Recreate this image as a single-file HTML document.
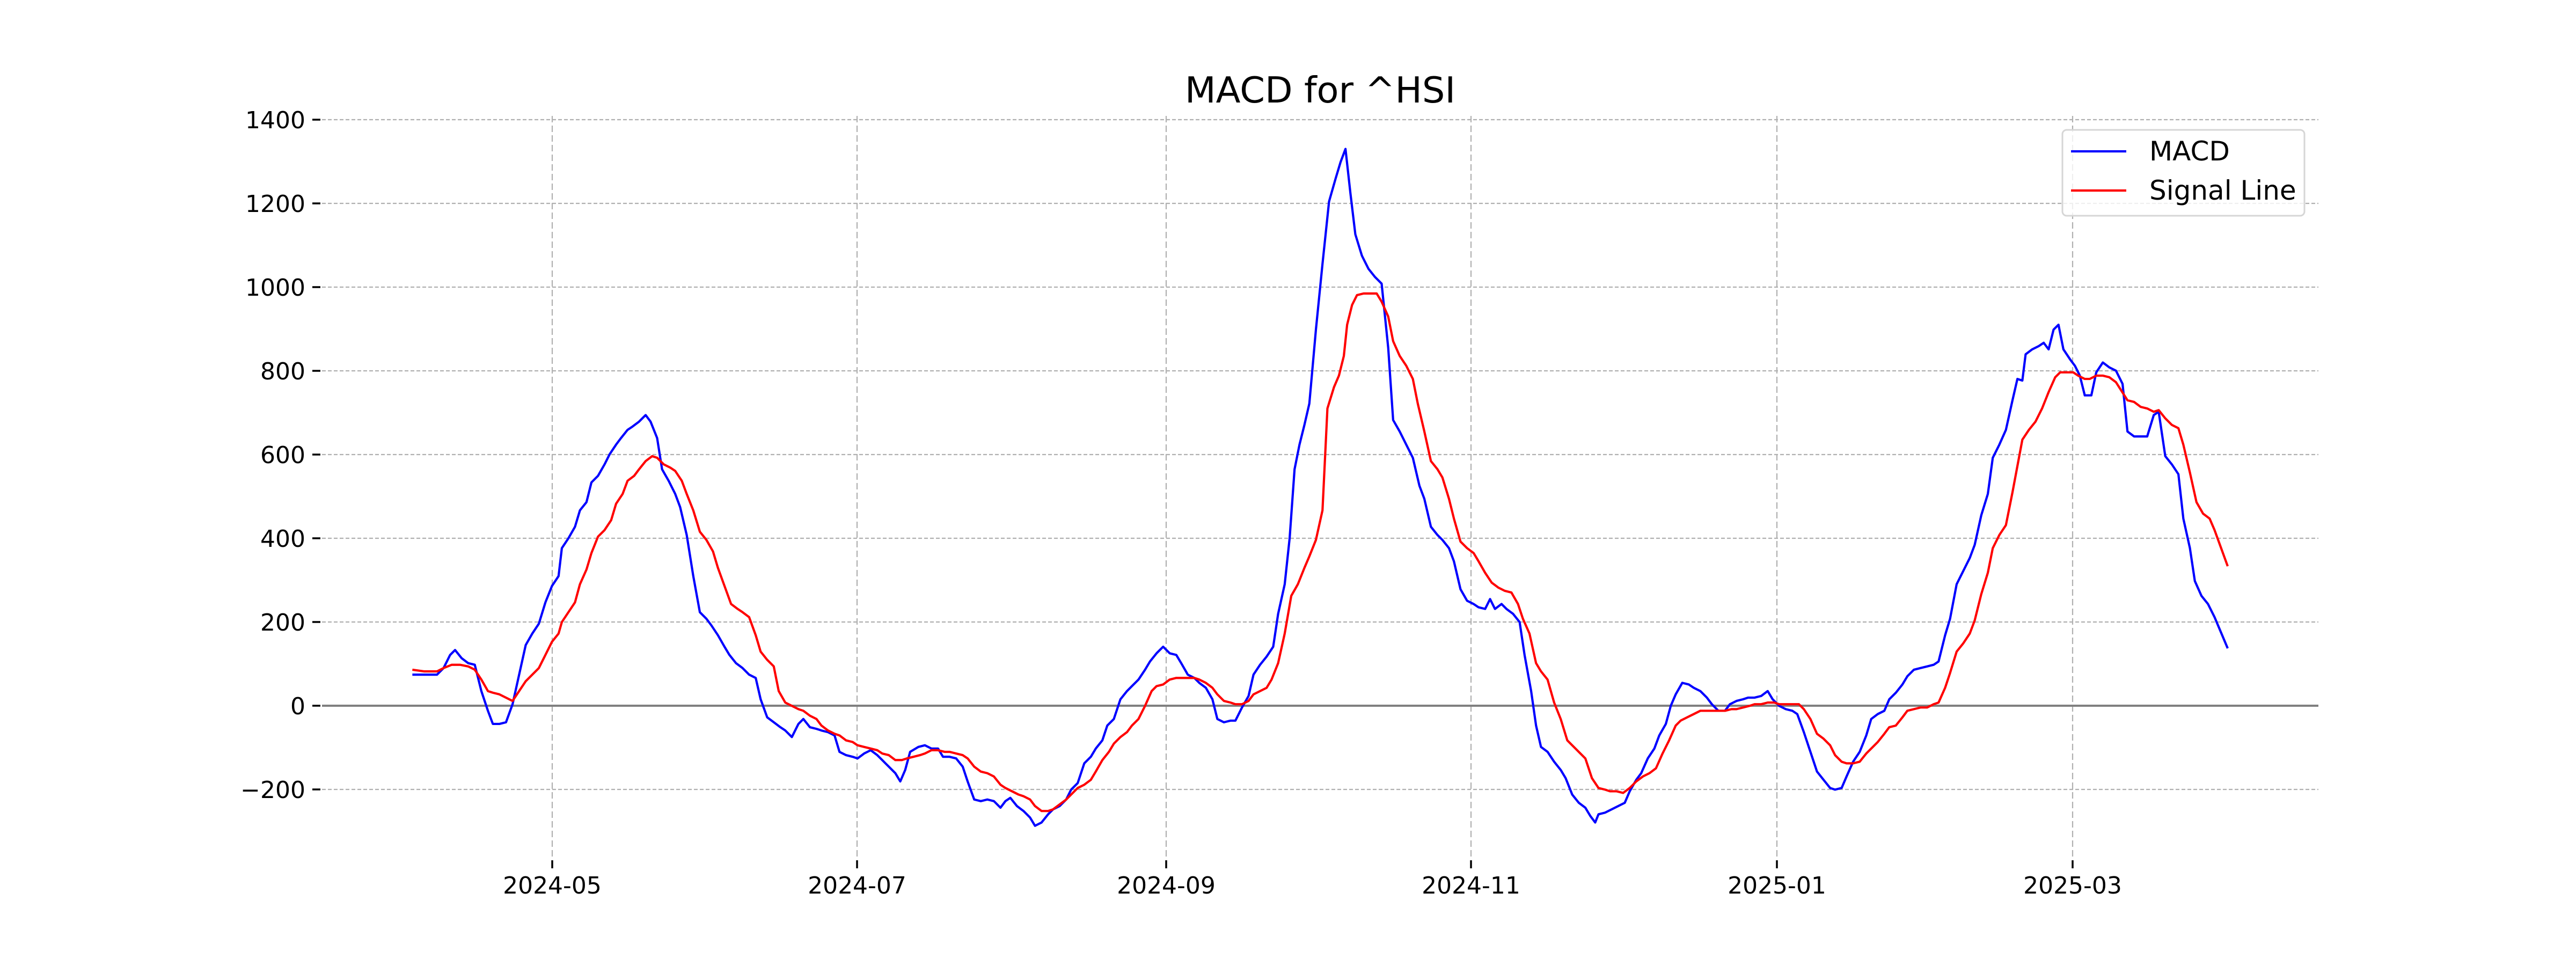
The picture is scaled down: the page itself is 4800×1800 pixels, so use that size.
<!DOCTYPE html>
<html><head><meta charset="utf-8"><style>
html,body{margin:0;padding:0;background:#fff;}
svg{display:block;}
text{font-family:"DejaVu Sans","Liberation Sans",sans-serif;fill:#000;}
</style></head><body>
<svg width="4800" height="1800" viewBox="0 0 4800 1800" xmlns="http://www.w3.org/2000/svg">
<rect width="4800" height="1800" fill="#fff"/>
<text x="2460" y="191" font-size="67" text-anchor="middle">MACD for ^HSI</text>
<g stroke="#b0b0b0" stroke-width="2.2" stroke-dasharray="7,4" fill="none">
<line x1="600" x2="4320" y1="223" y2="223"/>
<line x1="600" x2="4320" y1="379" y2="379"/>
<line x1="600" x2="4320" y1="535" y2="535"/>
<line x1="600" x2="4320" y1="691" y2="691"/>
<line x1="600" x2="4320" y1="847" y2="847"/>
<line x1="600" x2="4320" y1="1003" y2="1003"/>
<line x1="600" x2="4320" y1="1159" y2="1159"/>
<line x1="600" x2="4320" y1="1471" y2="1471"/>
</g>
<g stroke="#b0b0b0" stroke-width="2.2" stroke-dasharray="12,6" fill="none">
<line x1="1029" x2="1029" y1="216" y2="1602"/>
<line x1="1597" x2="1597" y1="216" y2="1602"/>
<line x1="2173" x2="2173" y1="216" y2="1602"/>
<line x1="2741" x2="2741" y1="216" y2="1602"/>
<line x1="3311" x2="3311" y1="216" y2="1602"/>
<line x1="3862" x2="3862" y1="216" y2="1602"/>
</g>
<line x1="600" x2="4320" y1="1315" y2="1315" stroke="#808080" stroke-width="4"/>
<g stroke="#000" stroke-width="3.5">
<line x1="582" x2="597" y1="223" y2="223"/><line x1="582" x2="597" y1="379" y2="379"/>
<line x1="582" x2="597" y1="535" y2="535"/><line x1="582" x2="597" y1="691" y2="691"/>
<line x1="582" x2="597" y1="847" y2="847"/><line x1="582" x2="597" y1="1003" y2="1003"/>
<line x1="582" x2="597" y1="1159" y2="1159"/><line x1="582" x2="597" y1="1315" y2="1315"/>
<line x1="582" x2="597" y1="1471" y2="1471"/>
<line x1="1029" x2="1029" y1="1603" y2="1618"/><line x1="1597" x2="1597" y1="1603" y2="1618"/>
<line x1="2173" x2="2173" y1="1603" y2="1618"/><line x1="2741" x2="2741" y1="1603" y2="1618"/>
<line x1="3311" x2="3311" y1="1603" y2="1618"/><line x1="3862" x2="3862" y1="1603" y2="1618"/>
</g>
<g font-size="44" text-anchor="end">
<text x="569" y="239">1400</text><text x="569" y="395">1200</text><text x="569" y="551">1000</text>
<text x="569" y="707">800</text><text x="569" y="863">600</text><text x="569" y="1019">400</text>
<text x="569" y="1175">200</text><text x="569" y="1331">0</text><text x="569" y="1487">−200</text>
</g>
<g font-size="44" text-anchor="middle">
<text x="1029" y="1665">2024-05</text><text x="1597" y="1665">2024-07</text><text x="2173" y="1665">2024-09</text>
<text x="2741" y="1665">2024-11</text><text x="3311" y="1665">2025-01</text><text x="3862" y="1665">2025-03</text>
</g>
<g transform="translate(0,2) scale(3.0612)" fill="none" stroke-linejoin="round">
<polyline vector-effect="non-scaling-stroke" stroke="#0000ff" stroke-width="4.2" points="251,410 258,410 266,410 270,406 274,398 277,395 281,400 285,403 289,404 293,420 297,432 300,440 304,440 308,439 312,428 316,410 320,392 324,385 328,379 332,366 336,356 340,350 342,333 346,327 350,320 353,310 357,305 360,293 364,289 368,282 371,276 375,270 378,266 382,261 385,259 389,256 393,252 396,256 400,266 403,285 407,292 411,300 414,308 418,325 422,350 426,372 430,376 433,380 437,386 441,393 444,398 448,403 452,406 456,410 460,412 463,425 467,436 471,439 475,442 478,444 482,448 486,440 489,437 493,442 497,443 500,444 504,445 508,447 511,457 515,459 519,460 522,461 526,458 530,456 534,459 537,462 541,466 545,470 548,475 551,468 554,457 559,454 563,453 567,455 571,455 574,460 578,460 582,461 586,466 589,475 593,486 597,487 601,486 605,487 609,491 612,487 615,485 619,490 623,493 627,497 630,502 634,500 638,495 641,492 645,490 649,486 652,480 656,476 660,464 664,460 667,455 671,450 674,441 678,437 682,425 686,420 689,417 693,413 697,407 700,402 704,397 708,393 712,397 716,398 719,403 723,410 727,412 730,415 734,418 738,425 741,437 745,439 749,438 752,438 756,430 760,423 763,410 767,404 771,399 775,393 778,373 782,355 785,327 788,285 791,270 794,258 797,245 801,200 805,160 809,122 813,108 816,98 819,90 822,117 825,142 829,155 833,163 837,168 841,172 845,211 848,255 852,262 856,270 860,278 864,295 867,303 871,320 875,325 878,328 882,333 885,341 889,358 893,365 897,367 900,369 904,370 907,364 910,370 914,367 917,370 921,373 925,378 928,398 932,420 935,441 938,454 942,457 946,463 950,468 953,473 957,483 961,488 965,491 968,496 971,500 973,495 977,494 981,492 985,490 989,488 992,481 996,474 999,470 1003,461 1007,455 1010,447 1014,440 1017,429 1020,422 1024,415 1028,416 1031,418 1035,420 1039,424 1042,428 1046,432 1050,432 1053,428 1057,426 1061,425 1064,424 1068,424 1072,423 1076,420 1079,425 1083,429 1087,431 1091,432 1094,434 1098,445 1102,457 1106,469 1110,474 1114,479 1117,480 1121,479 1124,472 1128,463 1132,457 1136,447 1139,437 1143,434 1147,432 1150,425 1154,421 1158,416 1161,411 1165,407 1169,406 1173,405 1177,404 1180,402 1184,386 1187,376 1191,355 1195,347 1199,339 1202,331 1206,313 1210,300 1213,278 1217,270 1221,261 1225,243 1228,230 1231,231 1233,215 1237,212 1241,210 1244,208 1247,212 1250,200 1253,197 1256,212 1260,218 1263,222 1266,228 1269,240 1273,240 1276,226 1280,220 1284,223 1288,225 1292,233 1295,262 1299,265 1303,265 1307,265 1311,252 1314,250 1318,277 1322,282 1326,288 1329,315 1333,333 1336,353 1340,362 1344,367 1348,375 1356,394"/>
<polyline vector-effect="non-scaling-stroke" stroke="#ff0000" stroke-width="4.2" points="251,407 258,408 266,408 270,406 275,404 280,404 285,405 289,407 293,413 297,420 300,421 304,422 308,424 312,426 316,420 320,414 324,410 328,406 332,398 336,390 340,385 342,378 346,372 350,366 353,355 357,346 360,336 364,326 368,322 372,316 375,306 379,300 382,292 386,289 389,285 393,280 397,277 400,278 404,282 408,284 411,286 415,292 418,300 422,310 426,323 430,328 434,335 437,345 441,356 445,367 449,370 452,372 456,375 460,386 463,396 467,401 471,405 474,420 478,427 482,429 486,431 489,432 493,435 497,437 500,441 504,444 508,446 511,447 515,450 519,451 522,453 526,454 530,455 534,456 537,458 541,459 545,462 549,462 552,461 556,460 560,459 563,458 567,456 571,456 575,457 578,457 582,458 586,459 589,461 593,466 597,469 601,470 605,472 609,477 612,479 616,481 620,483 623,484 627,486 630,490 634,493 638,493 641,492 645,489 649,486 652,483 656,479 660,477 664,474 667,469 671,462 675,457 678,452 682,448 686,445 689,441 693,437 697,429 701,420 704,417 708,416 712,413 716,412 719,412 723,412 727,412 730,413 734,415 738,418 741,422 745,426 749,427 752,428 756,428 760,426 763,422 767,420 771,418 774,413 778,403 782,385 786,362 790,355 794,345 797,338 801,328 805,310 808,248 812,235 815,228 818,216 820,197 823,185 826,179 830,178 834,178 838,178 841,183 845,192 848,207 852,216 856,222 860,230 863,245 867,262 871,280 875,285 878,290 882,303 885,315 889,329 893,333 897,336 900,341 904,348 908,354 912,357 916,359 920,360 924,367 927,376 931,385 935,403 938,408 942,413 946,427 950,437 954,450 957,453 961,457 965,461 969,473 973,479 977,480 980,481 984,481 988,482 992,479 996,475 1000,472 1004,470 1008,467 1012,458 1016,450 1020,441 1023,438 1027,436 1031,434 1035,432 1039,432 1042,432 1046,432 1050,432 1054,431 1057,431 1061,430 1065,429 1068,428 1072,428 1076,427 1080,427 1083,428 1087,428 1091,428 1095,428 1098,431 1102,437 1106,446 1110,449 1114,453 1117,459 1121,463 1124,464 1128,464 1132,463 1136,458 1139,455 1143,451 1147,446 1150,442 1154,441 1158,436 1161,432 1165,431 1169,430 1173,430 1177,428 1180,427 1184,418 1187,409 1191,396 1195,391 1199,385 1202,377 1206,361 1210,348 1213,333 1217,325 1221,319 1225,299 1228,283 1231,267 1235,261 1239,256 1243,248 1247,238 1251,229 1254,226 1258,226 1262,226 1265,228 1269,230 1272,230 1276,228 1280,228 1284,229 1288,232 1295,243 1299,244 1303,247 1307,248 1311,250 1314,249 1318,254 1322,258 1326,260 1329,270 1333,287 1337,305 1341,312 1345,315 1348,322 1356,344"/>
</g>
<rect x="3843" y="242" width="451" height="160" rx="8" fill="#fff" fill-opacity="0.8" stroke="#d6d6d6" stroke-width="3"/>
<line x1="3859" x2="3962" y1="282" y2="282" stroke="#0000ff" stroke-width="4.2"/>
<line x1="3859" x2="3962" y1="355" y2="355" stroke="#ff0000" stroke-width="4.2"/>
<text x="4005" y="299" font-size="50">MACD</text>
<text x="4005" y="372" font-size="50">Signal Line</text>
</svg>
</body></html>
